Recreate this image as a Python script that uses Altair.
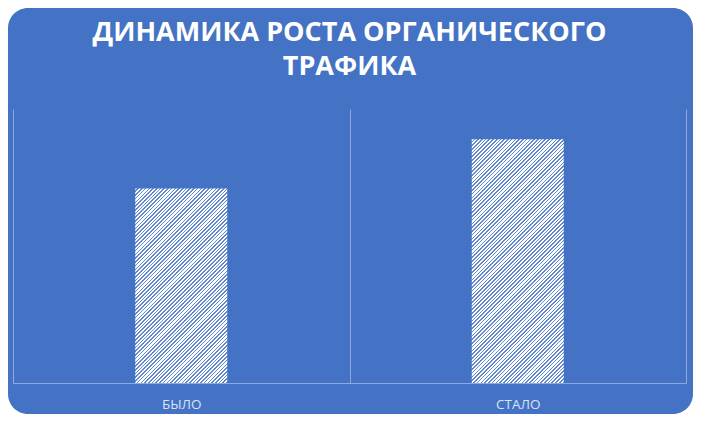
import altair as alt
import pandas as pd

# данные графика
categories = ["БЫЛО", "СТАЛО"]
values = [71, 89]
title_lines = ["ДИНАМИКА РОСТА ОРГАНИЧЕСКОГО", "ТРАФИКА"]

BG = "#4472c4"
STRIPE = "#6289cf"
GRID = "#8caadd"
LABEL = "#dae3f3"
PLOT_W = 673
PLOT_H = 274
Y_MAX = 100
BAND = 0.2734

df = pd.DataFrame({"cat": categories, "value": values})


def hatch(value, period=3.7, white=0.58):
    """Штриховка "/" через линейный градиент с жёсткими переходами."""
    w = BAND * PLOT_W / len(categories)
    h = value / Y_MAX * PLOT_H
    a = (w + h) / (w * w + h * h)
    n = int((w + h) / period)
    stops = []
    for k in range(n):
        stops += [
            {"offset": k / n, "color": "white"},
            {"offset": (k + white) / n, "color": "white"},
            {"offset": (k + white) / n, "color": STRIPE},
            {"offset": (k + 1) / n, "color": STRIPE},
        ]
    return {"gradient": "linear", "x1": 0, "y1": 0,
            "x2": w * a, "y2": h * a, "stops": stops}


x_enc = alt.X(
    "cat:N",
    sort=categories,
    title=None,
    scale=alt.Scale(paddingInner=0, paddingOuter=0),
    axis=alt.Axis(
        grid=True, tickBand="extent", gridColor=GRID, gridWidth=1,
        domainColor=GRID, ticks=False, labelAngle=0,
        labelColor=LABEL, labelFont="Open Sans", labelFontSize=13.5,
        labelPadding=14, zindex=1,
    ),
)
y_enc = alt.Y("value:Q", scale=alt.Scale(domain=[0, Y_MAX]), axis=None)

# фон с закруглёнными углами
panel = alt.Chart(alt.Data(values=[{}])).mark_rect(
    color=BG, cornerRadius=20
).encode(
    x=alt.value(-5), x2=alt.value(680),
    y=alt.value(-101), y2=alt.value(305),
)

bars = [
    alt.Chart(df).transform_filter(alt.datum.cat == c)
    .mark_bar(color=hatch(v), width=alt.RelativeBandSize(BAND))
    .encode(x=x_enc, y=y_enc)
    for c, v in zip(categories, values)
]

chart = alt.layer(panel, *bars).properties(
    width=PLOT_W,
    height=PLOT_H,
    padding=0,
    background="white",
    title=alt.TitleParams(
        title_lines, font="Open Sans", fontSize=27, fontWeight="bold",
        color="white", anchor="middle", lineHeight=34, offset=-73,
    ),
).configure_view(stroke=None)

chart.save("out.html", embed_options={"renderer": "svg", "actions": False})
